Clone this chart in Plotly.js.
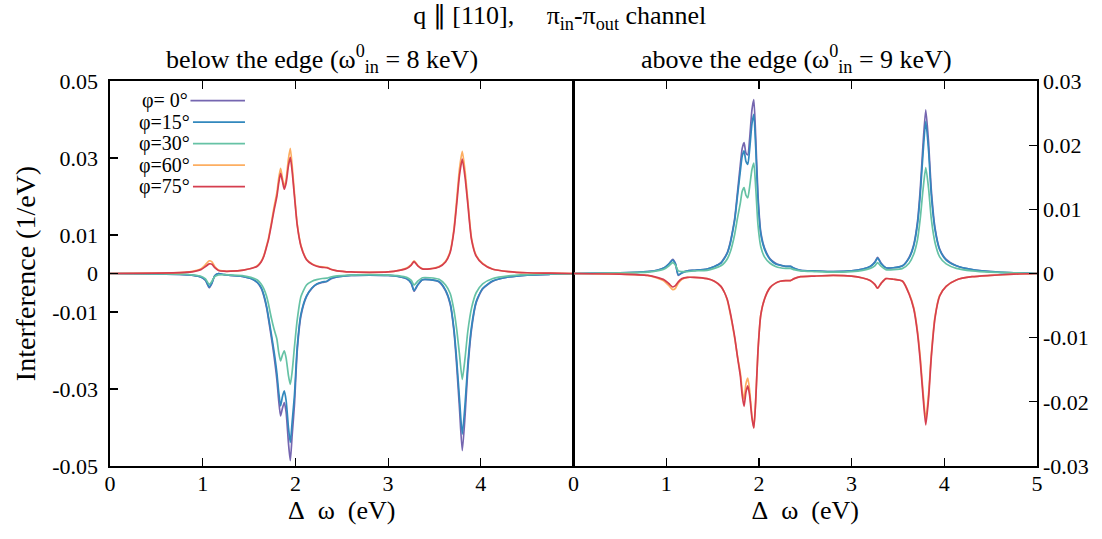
<!DOCTYPE html>
<html>
<head>
<meta charset="utf-8">
<script src="https://cdn.plot.ly/plotly-3.0.1.min.js"></script>
<style>html,body{margin:0;padding:0;background:#fff;}#chart{width:1102px;height:539px;}</style>
</head>
<body>
<div id="chart"></div>
<script>
// Energy loss grid (eV), shared by all series
var dOmega = [0,0.5,0.8,0.9,0.98,1.03,1.07,1.1,1.13,1.17,1.23,1.3,1.44,1.52,1.59,1.63,1.66,1.69,1.71,1.74,1.77,1.8,1.82,1.84,1.86,1.88,1.9,1.925,1.945,1.965,1.99,2.02,2.06,2.12,2.18,2.23,2.29,2.34,2.38,2.45,2.6,2.8,3.0,3.12,3.2,3.25,3.28,3.32,3.37,3.45,3.55,3.62,3.67,3.71,3.74,3.77,3.8,3.83,3.86,3.9,3.95,4.02,4.13,4.3,4.5,4.75,5.0];

var seriesNames = ["\u03c6= 0\u00b0","\u03c6=15\u00b0","\u03c6=30\u00b0","\u03c6=60\u00b0","\u03c6=75\u00b0"];

// below the edge (8 keV)
var below_phi0 = [0,-0.0001,-0.0003,-0.0005,-0.0009,-0.0018,-0.0037,-0.0025,-0.0006,0,-0.0003,-0.0005,-0.0008,-0.0013,-0.0024,-0.0038,-0.0059,-0.009,-0.0119,-0.0165,-0.0215,-0.0275,-0.033,-0.037,-0.035,-0.0335,-0.036,-0.044,-0.0486,-0.042,-0.034,-0.02,-0.011,-0.006,-0.0038,-0.0028,-0.0023,-0.0021,-0.0014,-0.0009,-0.0005,-0.0004,-0.0005,-0.0008,-0.0014,-0.0026,-0.0046,-0.003,-0.0016,-0.0016,-0.0022,-0.0045,-0.008,-0.015,-0.024,-0.035,-0.046,-0.037,-0.025,-0.0145,-0.0076,-0.004,-0.002,-0.0009,-0.0004,-0.0002,-0.0001];
var below_phi15 = [0,-0.0001,-0.0003,-0.0005,-0.0009,-0.0017,-0.0035,-0.0024,-0.0006,0,-0.0003,-0.0005,-0.0008,-0.0013,-0.0023,-0.0036,-0.0056,-0.0086,-0.0113,-0.0157,-0.0203,-0.0258,-0.0308,-0.0344,-0.032,-0.0305,-0.033,-0.04,-0.0439,-0.0385,-0.0315,-0.019,-0.0105,-0.0058,-0.0037,-0.0027,-0.0022,-0.002,-0.0013,-0.0009,-0.0005,-0.0004,-0.0005,-0.0008,-0.0013,-0.0025,-0.0044,-0.0029,-0.0016,-0.0016,-0.0021,-0.0043,-0.0077,-0.0143,-0.0225,-0.0325,-0.0417,-0.034,-0.0235,-0.0138,-0.0073,-0.0039,-0.0019,-0.0009,-0.0004,-0.0002,-0.0001];
var below_phi30 = [0,-0.0001,-0.0002,-0.0004,-0.0007,-0.0014,-0.0028,-0.002,-0.0008,-0.0004,-0.0003,-0.0004,-0.0006,-0.001,-0.0017,-0.0027,-0.004,-0.006,-0.008,-0.0115,-0.0145,-0.017,-0.0205,-0.0227,-0.0212,-0.0201,-0.022,-0.0265,-0.0288,-0.0255,-0.019,-0.012,-0.006,-0.003,-0.002,-0.0016,-0.0013,-0.0012,-0.0009,-0.0006,-0.0004,-0.0003,-0.0004,-0.0006,-0.001,-0.0018,-0.003,-0.002,-0.0011,-0.0011,-0.0015,-0.003,-0.0052,-0.0095,-0.0145,-0.021,-0.0275,-0.022,-0.015,-0.009,-0.005,-0.0027,-0.0013,-0.0006,-0.0003,-0.0001,-0.0001];
var below_phi60 = [0,0.0001,0.0003,0.0006,0.0012,0.0023,0.0033,0.003,0.0018,0.0009,0.0006,0.0006,0.0009,0.0013,0.002,0.0031,0.0047,0.0073,0.0092,0.0131,0.0173,0.021,0.0247,0.0273,0.0248,0.0225,0.0245,0.0298,0.0325,0.028,0.0208,0.0128,0.0073,0.0037,0.0025,0.002,0.0017,0.0016,0.0011,0.0007,0.0004,0.0003,0.0004,0.0008,0.0014,0.0023,0.0033,0.0021,0.0012,0.0012,0.0018,0.0032,0.0058,0.0116,0.0192,0.0272,0.0317,0.0266,0.019,0.0092,0.0047,0.0026,0.0011,0.0005,0.0002,0.0001,0];
var below_phi75 = [0,0.0001,0.0003,0.0005,0.001,0.0018,0.0025,0.0024,0.0015,0.0008,0.0006,0.0006,0.0009,0.0013,0.0019,0.003,0.0045,0.007,0.0088,0.0125,0.0165,0.02,0.0235,0.026,0.024,0.0219,0.0235,0.028,0.0302,0.0265,0.02,0.0125,0.0071,0.0036,0.0024,0.0019,0.0016,0.0015,0.0011,0.0007,0.0004,0.0003,0.0004,0.0008,0.0013,0.0022,0.0031,0.002,0.0012,0.0012,0.0017,0.003,0.0055,0.011,0.018,0.0255,0.0297,0.025,0.018,0.0088,0.0045,0.0025,0.0011,0.0005,0.0002,0.0001,0];

// above the edge (9 keV)
var above_phi0 = [0,0.0001,0.0003,0.0005,0.0009,0.0015,0.0022,0.0015,-0.0003,0.0001,0.0004,0.0005,0.0007,0.0011,0.0017,0.0025,0.0033,0.0048,0.0062,0.0087,0.0128,0.017,0.0195,0.0204,0.0188,0.0185,0.021,0.0255,0.0271,0.0215,0.0123,0.0065,0.004,0.0023,0.0016,0.0013,0.0011,0.0011,0.0008,0.0005,0.0004,0.0003,0.0004,0.0007,0.0011,0.0018,0.0025,0.0016,0.0009,0.0009,0.0012,0.0025,0.0045,0.008,0.013,0.02,0.0255,0.0205,0.013,0.0071,0.0038,0.0022,0.0012,0.0006,0.0003,0.0001,0];
var above_phi15 = [0,0.0001,0.0003,0.0005,0.0009,0.0015,0.0021,0.0015,-0.0002,0.0001,0.0004,0.0005,0.0007,0.0011,0.0016,0.0024,0.0032,0.0046,0.006,0.0084,0.0122,0.016,0.0183,0.0191,0.0175,0.017,0.0193,0.0233,0.0248,0.0198,0.0115,0.0062,0.0038,0.0022,0.0015,0.0013,0.0011,0.0011,0.0008,0.0005,0.0004,0.0003,0.0004,0.0007,0.0011,0.0017,0.0024,0.0015,0.0009,0.0009,0.0012,0.0024,0.0043,0.0076,0.0122,0.0186,0.0237,0.0192,0.0122,0.0068,0.0037,0.0021,0.0012,0.0006,0.0003,0.0001,0];
var above_phi30 = [0,0.0001,0.0002,0.0004,0.0007,0.0012,0.0017,0.0013,0.0004,0.0003,0.0003,0.0004,0.0005,0.0008,0.0012,0.0017,0.0023,0.0033,0.0043,0.0062,0.0087,0.011,0.0128,0.0134,0.0122,0.0118,0.0135,0.0162,0.0172,0.0135,0.0076,0.0042,0.0026,0.0016,0.0011,0.0009,0.0008,0.0008,0.0006,0.0004,0.0003,0.0002,0.0003,0.0005,0.0008,0.0012,0.0017,0.0011,0.0006,0.0006,0.0008,0.0016,0.003,0.0052,0.0085,0.013,0.0165,0.0133,0.0085,0.0048,0.0026,0.0015,0.0008,0.0004,0.0002,0.0001,0];
var above_phi60 = [0,-0.0001,-0.0003,-0.0007,-0.0012,-0.0019,-0.0025,-0.0023,-0.0015,-0.0009,-0.0006,-0.0006,-0.0008,-0.0012,-0.002,-0.003,-0.0042,-0.0062,-0.0077,-0.0102,-0.013,-0.0155,-0.0182,-0.0196,-0.0172,-0.0163,-0.0182,-0.0222,-0.024,-0.0198,-0.012,-0.0065,-0.004,-0.0022,-0.0015,-0.0012,-0.0011,-0.0011,-0.0008,-0.0005,-0.0004,-0.0003,-0.0004,-0.0007,-0.0011,-0.0017,-0.0023,-0.0015,-0.0008,-0.0009,-0.0012,-0.0031,-0.0053,-0.0089,-0.013,-0.0183,-0.0227,-0.0188,-0.0126,-0.0067,-0.0034,-0.002,-0.001,-0.0005,-0.0003,-0.0001,0];
var above_phi75 = [0,-0.0001,-0.0003,-0.0006,-0.001,-0.0016,-0.0021,-0.0019,-0.0013,-0.0008,-0.0006,-0.0006,-0.0008,-0.0012,-0.002,-0.003,-0.0041,-0.006,-0.0075,-0.01,-0.0131,-0.016,-0.019,-0.0207,-0.0185,-0.0175,-0.019,-0.0225,-0.0241,-0.02,-0.0121,-0.0065,-0.004,-0.0022,-0.0015,-0.0012,-0.0011,-0.0011,-0.0008,-0.0005,-0.0004,-0.0003,-0.0004,-0.0007,-0.0011,-0.0017,-0.0023,-0.0015,-0.0008,-0.0009,-0.0012,-0.0032,-0.0055,-0.0092,-0.0135,-0.019,-0.0236,-0.0195,-0.013,-0.0069,-0.0035,-0.002,-0.001,-0.0005,-0.0003,-0.0001,0];

var leftTickVals = [-0.05,-0.03,-0.01,0,0.01,0.03,0.05];
var leftTickText = ["-0.05","-0.03","-0.01","0","0.01","0.03","0.05"];
var rightTickVals = [-0.03,-0.02,-0.01,0,0.01,0.02,0.03];
var rightTickText = ["-0.03","-0.02","-0.01","0","0.01","0.02","0.03"];
var leftXTicks = [0,1,2,3,4];
var rightXTicks = [0,1,2,3,4,5];

var colors = ["#7566b0","#3288bd","#66c2a5","#fdae61","#d53e4f"];
var belowSets = [below_phi0, below_phi15, below_phi30, below_phi60, below_phi75];
var aboveSets = [above_phi0, above_phi15, above_phi30, above_phi60, above_phi75];

var traces = [];
belowSets.forEach(function(ys, i){
  traces.push({x: dOmega, y: ys, name: seriesNames[i], type: 'scatter', mode: 'lines',
    xaxis: 'x', yaxis: 'y', showlegend: false,
    line: {color: colors[i], width: 1.7, shape: 'spline', smoothing: 0.6}});
});
aboveSets.forEach(function(ys, i){
  traces.push({x: dOmega, y: ys, name: seriesNames[i], type: 'scatter', mode: 'lines',
    xaxis: 'x2', yaxis: 'y2', showlegend: false,
    line: {color: colors[i], width: 1.7, shape: 'spline', smoothing: 0.6}});
});

var fontFam = '"Liberation Serif", "Times New Roman", serif';
var axisCommon = {showline: true, linecolor: '#000', linewidth: 1.6, ticks: 'inside', ticklen: 8,
  tickcolor: '#000', tickwidth: 1.2, showgrid: false, zeroline: false,
  tickfont: {family: fontFam, size: 22, color: '#000'}};

// gnuplot-style key: label on the left, line sample on the right (drawn as annotation arrows)
var keyAnnotations = seriesNames.map(function(nm, i){
  return {text: nm, xref: 'paper', yref: 'paper', x: 0.1456, y: 0.949 - i*0.0558,
    showarrow: true, arrowhead: 0, arrowwidth: 1.8, arrowcolor: colors[i], standoff: 0,
    ax: -80, ay: 0, font: {family: fontFam, size: 20, color: '#000'}, borderpad: 2};
});

var layout = {
  width: 1102, height: 539,
  paper_bgcolor: '#fff', plot_bgcolor: '#fff',
  margin: {l: 110, r: 65, t: 81, b: 73},
  font: {family: fontFam, color: '#000'},
  title: {text: 'q \u2225 [110],\u00a0\u00a0\u00a0\u00a0\u00a0\u03c0<sub>in</sub>-\u03c0<sub>out</sub> channel',
    font: {family: fontFam, size: 26, color: '#000'}, x: 0.508, xanchor: 'center', y: 0.972, yanchor: 'middle'},
  xaxis: Object.assign({}, axisCommon, {domain: [0, 0.5], range: [0, 5], tickvals: leftXTicks, mirror: 'ticks', anchor: 'y',
    ticklabelstandoff: -3,
    title: {text: '\u0394\u00a0\u00a0\u03c9\u00a0\u00a0(eV)', font: {family: fontFam, size: 26, color: '#000'}, standoff: 4}}),
  xaxis2: Object.assign({}, axisCommon, {domain: [0.5, 1], range: [0, 5], tickvals: rightXTicks, mirror: 'ticks', anchor: 'y2',
    ticklabelstandoff: -3,
    title: {text: '\u0394\u00a0\u00a0\u03c9\u00a0\u00a0(eV)', font: {family: fontFam, size: 26, color: '#000'}, standoff: 4}}),
  yaxis: Object.assign({}, axisCommon, {range: [-0.05, 0.05], tickvals: leftTickVals, ticktext: leftTickText, mirror: true, anchor: 'x',
    ticklabelstandoff: 6,
    title: {text: 'Interference (1/eV)', font: {family: fontFam, size: 28, color: '#000'}, standoff: 8}}),
  yaxis2: Object.assign({}, axisCommon, {range: [-0.03, 0.03], tickvals: rightTickVals, ticktext: rightTickText, mirror: true, anchor: 'x2',
    side: 'right', ticklabelstandoff: 0}),
  showlegend: false,
  annotations: [
    {text: 'below the edge (\u03c9<sup>0</sup><sub>in</sub> = 8 keV)', xref: 'paper', yref: 'paper', x: 0.2287, y: 1,
      xanchor: 'center', yanchor: 'bottom', yshift: 2, showarrow: false, font: {family: fontFam, size: 26, color: '#000'}},
    {text: 'above the edge (\u03c9<sup>0</sup><sub>in</sub> = 9 keV)', xref: 'paper', yref: 'paper', x: 0.741, y: 1,
      xanchor: 'center', yanchor: 'bottom', yshift: 2, showarrow: false, font: {family: fontFam, size: 26, color: '#000'}}
  ].concat(keyAnnotations)
};

Plotly.newPlot('chart', traces, layout, {displayModeBar: false, staticPlot: true});
</script>
</body>
</html>
